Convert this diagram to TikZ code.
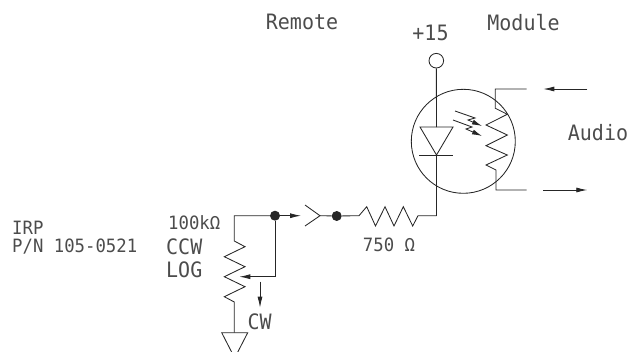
\documentclass[tikz,border=0pt]{standalone}
\usepackage{fontspec}
\setmainfont{DejaVu Sans Mono}
\usetikzlibrary{arrows.meta}
\tikzset{
	wire/.style={line width=0.85pt, black!85},
	sig/.style={wire, -{Latex[length=11pt,width=5pt]}},
	junction/.style={circle, fill=black!85, inner sep=0pt, minimum size=10pt},
	lbl/.style={inner sep=0pt, text=black!70, yscale=1.06, font=\fontsize{20}{20}\selectfont},
	lblsmall/.style={lbl, font=\fontsize{17.3}{17.3}\selectfont},
}
\begin{document}
\begin{tikzpicture}[x=1pt, y=-1pt]
	\useasboundingbox (0,0) rectangle (628,351);
	\clip (0,0) rectangle (628,351);
	% labels
	\node[lbl] (remote) at (302,22) {Remote};
	\node[lbl] (module) at (523.5,23) {Module};
	\node[lbl] (plus) at (430.5,33) {+15};
	\node[lbl] (audio) at (598,133) {Audio};
	\node[lblsmall, anchor=west] (irp) at (12,228) {IRP};
	\node[lblsmall, anchor=west] (pn) at (12,246.7) {P/N 105-0521};
	\node[lblsmall, anchor=west] (val) at (168,223) {100kΩ};
	\node[lbl, anchor=west] (ccw) at (166,247) {CCW};
	\node[lbl, anchor=west] (log) at (166,270) {LOG};
	\node[lbl, anchor=west] (cw) at (247.5,321.7) {CW};
	\node[lblsmall] (rval) at (389,245) {750 Ω};
	% opto
	\node[draw, wire, circle, inner sep=0pt, minimum size=104pt] (opto) at (463.3,141.3) {};
	\node[draw, wire, circle, inner sep=0pt, minimum size=14.6pt] (term) at (436.3,60.7) {};
	\coordinate (diodetop) at (436.5,127);
	\coordinate (diodebot) at (436.5,155);
	\coordinate (rcorner) at (436.5,215.7);
	\draw[wire] (term) -- (diodetop);
	\draw[wire] (420,127) -- (453,127) -- (diodebot) -- cycle;
	\draw[wire] (419.3,155) -- (453.3,155);
	\draw[wire] (diodebot) -- (rcorner);
	% photo resistor
	\draw[wire] (526.7,89) -- (495.3,89) -- (495.3,108.3) -- (507.3,114.3) -- (486,125) -- (507.3,135)
		-- (486,145.7) -- (507.3,155) -- (486,165) -- (496,170) -- (496,190) -- (526.7,190);
	\draw[sig] (587.3,89) -- (543.3,89);
	\draw[sig] (543.3,190) -- (587.3,190);
	% light
	\draw[wire, -{Latex[length=10pt,width=5pt]}] (455,111) -- (475,118) -- (468,120) -- (482,126);
	\draw[wire, -{Latex[length=10pt,width=5pt]}] (453,120) -- (472,127) -- (466,129) -- (482,136);
	% series part
	\node[junction] (jright) at (336.7,216) {};
	\node[junction] (jleft) at (275,215.7) {};
	\coordinate (plug) at (320,215.7);
	\coordinate (plugout) at (301,215.7);
	\draw[wire] (305,205) -- (plug) -- (305,226);
	\draw[wire] (plug) -- (jright) -- (359,215.7) -- (366.7,206.7) -- (375.5,226) -- (385,206.7) -- (394,226)
		-- (403.3,206.7) -- (412.7,226) -- (418,215.7) -- (rcorner);
	\draw[sig] (jleft) -- (plugout);
	% pot
	\draw[wire] (jleft) -- (234.3,215.7) -- (234.3,241) -- (245,246.7) -- (224.3,256.7) -- (245,266.7)
		-- (224.3,276.7) -- (245,286.7) -- (224.3,296.7) -- (234.3,302) -- (234.3,332.7);
	\draw[sig] (jleft) -- (275,276.7) -- (239.3,276.7);
	\draw[sig] (260,281.7) -- (260,307.7);
	\draw[wire] (221.7,332.7) -- (247.7,332.7) -- (234.7,358) -- cycle;
\end{tikzpicture}
\end{document}
